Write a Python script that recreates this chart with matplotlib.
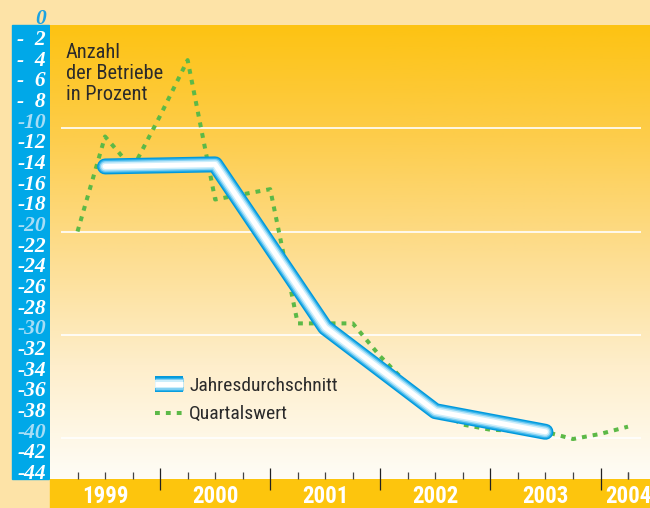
"""
Anzahl der Betriebe in Prozent: Jahresdurchschnitt vs. Quartalswert, 1999-2004.
"""

import matplotlib

matplotlib.use("Agg")
import matplotlib.pyplot as plt
import matplotlib.transforms as mtransforms
import numpy as np
from matplotlib import font_manager as fm
from matplotlib.colors import LinearSegmentedColormap
from matplotlib.legend_handler import HandlerTuple
from matplotlib.lines import Line2D
from matplotlib.patches import Rectangle

# --- data -------------------------------------------------------------------
years = [1999, 2000, 2001, 2002, 2003]
annual_avg = [-13.7, -13.5, -29.3, -37.4, -39.4]

quarter_end = [1999.25, 1999.5, 1999.75, 2000.0, 2000.25, 2000.5, 2000.75,
               2001.0, 2001.25, 2001.5, 2001.75, 2002.0, 2002.25, 2002.5,
               2002.75, 2003.0, 2003.25, 2003.5, 2003.75, 2004.0, 2004.25]
quarterly = [-20.0, -10.8, -13.9, -8.8, -3.4, -16.9, -16.4,
             -15.9, -28.9, -28.9, -28.9, -32.1, -34.8, -37.2,
             -38.7, -39.2, -39.3, -39.4, -40.1, -39.6, -38.9]

year_labels = ["1999", "2000", "2001", "2002", "2003", "2004"]
y_ticks = list(range(-44, 1, 2))
y_labels = ["0" if v == 0 else ("-  %d" % -v if v > -10 else "%d" % v) for v in y_ticks]

# --- colours / fonts --------------------------------------------------------
CREAM = "#FDE3A7"
BLUE_BAND = "#00A8E8"
YELLOW_BAND = "#FDC50D"
GREEN = "#5CB947"
TEXT = "#2B2B2B"
SERIF = ["Liberation Serif", "DejaVu Serif"]


def pick_condensed():
    # the original uses a condensed grotesk; fall back to a smaller regular sans
    for fam in ["Liberation Sans Narrow", "Roboto Condensed", "Open Sans Condensed"]:
        try:
            fm.findfont(fm.FontProperties(family=fam), fallback_to_default=False)
            return [fam, "DejaVu Sans"], 1.0
        except ValueError:
            pass
    return ["Liberation Sans", "DejaVu Sans"], 0.84


SANS, FS = pick_condensed()

W, H = 650, 508
fig = plt.figure(figsize=(W / 100, H / 100), dpi=100, facecolor=CREAM)

# plot area in pixels: x 50..650, y 25..479.3 (from top)
ax_left, ax_top, ax_bottom = 50, 25, 479.3
ax = fig.add_axes([ax_left / W, (H - ax_bottom) / H, (W - ax_left) / W, (ax_bottom - ax_top) / H])
ax.set_facecolor("none")
x_max = 1999 + (W - ax_left) / 110.1
ax.set_xlim(1999.0, x_max)
ax.set_ylim(-44, 0)
for s in ax.spines.values():
    s.set_visible(False)

# background gradient (orange-yellow top to near white bottom)
grad_cmap = LinearSegmentedColormap.from_list(
    "bg", [(0.0, "#FFFDF6"), (0.25, "#FEEECB"), (0.5, "#FDDD8E"), (0.75, "#FDCD4C"), (1.0, "#FDC312")]
)
ax.imshow(np.linspace(0, 1, 256).reshape(-1, 1), cmap=grad_cmap, aspect="auto",
          extent=[1999.0, x_max, -44, 0], origin="lower", zorder=0)

# side bands
fig.add_artist(Rectangle((12 / W, (H - ax_bottom) / H), 37.3 / W, (ax_bottom - ax_top) / H,
                         transform=fig.transFigure, color=BLUE_BAND, zorder=0))
fig.add_artist(Rectangle((ax_left / W, 0), (W - ax_left) / W, (H - ax_bottom) / H,
                         transform=fig.transFigure, color=YELLOW_BAND, zorder=0))

# white grid lines
ax.hlines([-10, -20, -30, -40], 0.018, 0.985, transform=ax.get_yaxis_transform(),
          color="white", lw=1.2, zorder=1)

# quarterly values, green dotted
ax.plot(quarter_end, quarterly, color=GREEN, lw=2.9, linestyle=(0, (1.2, 1.5)),
        dash_capstyle="butt", zorder=3)

# annual average, thick tube line (blue edge, white core)
ann_x = [y + 0.5 for y in years]
tube = [(11.5, "#0098DC"), (9.6, "#2EB1EA"), (7.8, "#86D2F3"), (5.8, "#CDEEFB"), (3.6, "white")]
for lw, c in tube:
    ax.plot(ann_x, annual_avg, color=c, lw=lw, solid_capstyle="round",
            solid_joinstyle="round", zorder=4)

# x ticks: quarters (minor) and years (major)
ax.set_xticks([2000, 2001, 2002, 2003, 2004])
ax.set_xticks([q for q in quarter_end if q % 1 != 0] + [2004.25], minor=True)
ax.tick_params(axis="x", which="major", direction="inout", length=16, width=0.9,
               color="#222222", labelbottom=False)
ax.tick_params(axis="x", which="minor", direction="in", length=5, width=0.9,
               color="#444444", labelbottom=False)
for lab, yr in zip(year_labels, years + [2004]):
    xpos = min(yr + 0.5, x_max - 0.2)
    ax.text(xpos, -0.038, lab, transform=ax.get_xaxis_transform(), ha="center", va="center",
            color="white", fontsize=16.5 * FS, fontweight="bold", family=SANS, clip_on=False)

# y tick labels (bold italic serif, shifted up a little)
ax.set_yticks(y_ticks)
ax.set_yticklabels(y_labels, family=SERIF, fontsize=15.5, fontweight="bold", fontstyle="italic")
ax.tick_params(axis="y", length=0, pad=3)
shift = mtransforms.ScaledTranslation(0, 8 / 100, fig.dpi_scale_trans)
for v, t in zip(y_ticks, ax.get_yticklabels()):
    t.set_transform(t.get_transform() + shift)
    if v == 0:
        t.set_color("#1AA3E2")
    elif v % 10 == 0:
        t.set_color("#A6DDF6")
    else:
        t.set_color("white")

# axis caption
ax.text((66 - ax_left) / (W - ax_left), 1 - (43 - ax_top) / (ax_bottom - ax_top),
        "Anzahl\nder Betriebe\nin Prozent", transform=ax.transAxes, ha="left", va="top",
        fontsize=14.7 * FS, family=SANS, color=TEXT, linespacing=1.14, zorder=5)

# legend
h_tube = tuple(Line2D([], [], color=c, lw=lw, solid_capstyle="butt") for lw, c in tube)
h_green = Line2D([], [], color=GREEN, lw=2.9, linestyle=(0, (1.2, 1.5)))
leg = fig.legend([h_tube, h_green], ["Jahresdurchschnitt", "Quartalswert"],
                 handler_map={tuple: HandlerTuple(ndivide=1, pad=0)},
                 loc="center left", bbox_to_anchor=(155 / W, (H - 400) / H),
                 frameon=False, borderpad=0, borderaxespad=0, handlelength=1.45 / FS,
                 handletextpad=0.3 / FS, labelspacing=0.55 / FS,
                 prop={"family": SANS, "size": 14 * FS})
for t in leg.get_texts():
    t.set_color(TEXT)

fig.savefig("out.png", dpi=100, facecolor=CREAM)
